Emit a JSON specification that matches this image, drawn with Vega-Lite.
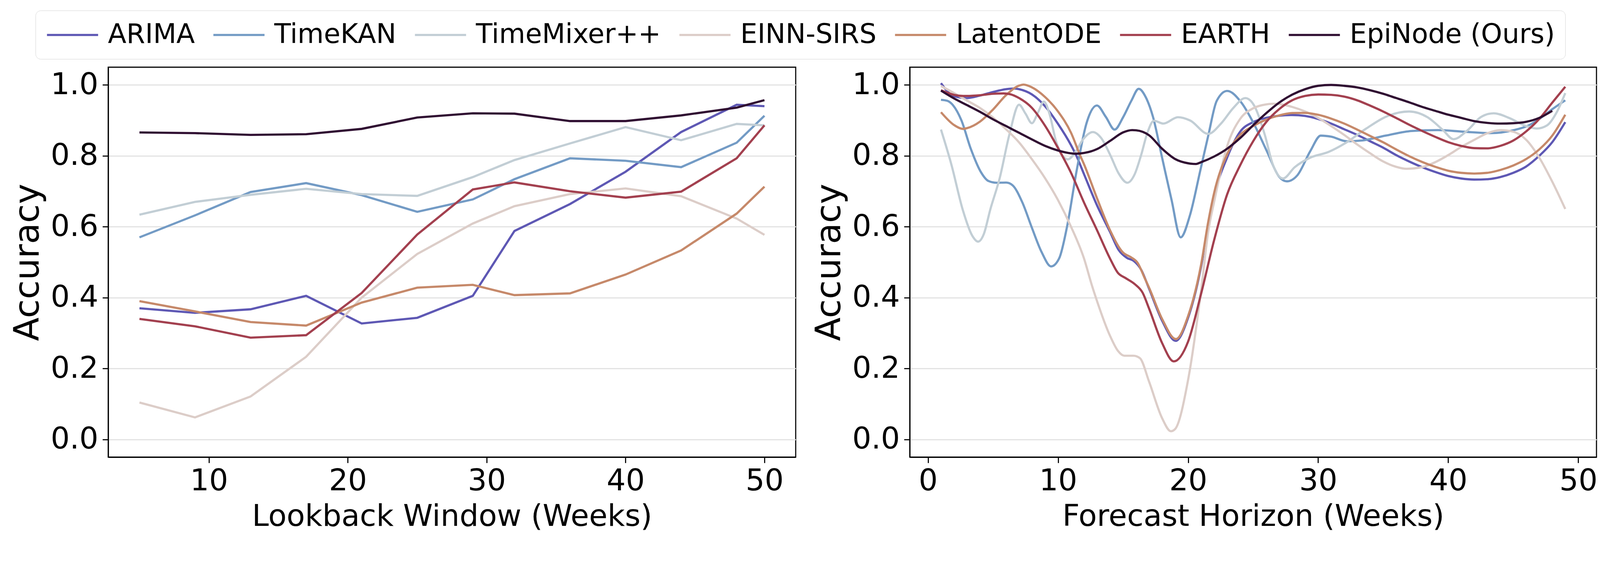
{
  "$schema": "https://vega.github.io/schema/vega-lite/v6.json",
  "background": "white",
  "padding": {"left": 25, "top": 26, "right": 8, "bottom": 8},
  "autosize": {"type": "pad"},
  "config": {
    "font": "DejaVu Sans",
    "view": {"stroke": "black", "strokeWidth": 2.8},
    "concat": {"spacing": 38},
    "axis": {"labelFont": "DejaVu Sans", "titleFont": "DejaVu Sans", "labelFontSize": 76.8, "titleFontSize": 76.8, "titleFontWeight": "normal", "labelColor": "black", "titleColor": "black", "tickColor": "black", "tickWidth": 2.8, "tickSize": 14.7, "domainColor": "black", "domainWidth": 2.8, "gridColor": "#e3e3e3", "gridWidth": 2.8, "labelPadding": 9.2, "titlePadding": 13.8, "labelOverlap": false, "labelFlush": false},
    "axisY": {"titleFontSize": 88.3, "labelPadding": 11, "titlePadding": 12},
    "legend": {"direction": "horizontal", "labelFont": "DejaVu Sans", "labelFontSize": 69.1, "labelColor": "black", "symbolType": "M-1,0L3,0", "symbolSize": 4284, "labelOffset": 87.3, "columnPadding": 36, "padding": 26, "strokeColor": "#d5d5d5", "cornerRadius": 13, "fillColor": "white", "labelLimit": 2000}
  },
  "datasets": {
    "lookback": [
      {"model": "ARIMA", "window": 5, "acc": 0.370}, {"model": "ARIMA", "window": 9, "acc": 0.357}, {"model": "ARIMA", "window": 13, "acc": 0.367}, {"model": "ARIMA", "window": 17, "acc": 0.405}, {"model": "ARIMA", "window": 21, "acc": 0.327}, {"model": "ARIMA", "window": 25, "acc": 0.343}, {"model": "ARIMA", "window": 29, "acc": 0.405}, {"model": "ARIMA", "window": 32, "acc": 0.588}, {"model": "ARIMA", "window": 36, "acc": 0.664}, {"model": "ARIMA", "window": 40, "acc": 0.755}, {"model": "ARIMA", "window": 44, "acc": 0.867}, {"model": "ARIMA", "window": 48, "acc": 0.944}, {"model": "ARIMA", "window": 50, "acc": 0.940},
      {"model": "TimeKAN", "window": 5, "acc": 0.570}, {"model": "TimeKAN", "window": 9, "acc": 0.632}, {"model": "TimeKAN", "window": 13, "acc": 0.698}, {"model": "TimeKAN", "window": 17, "acc": 0.723}, {"model": "TimeKAN", "window": 21, "acc": 0.689}, {"model": "TimeKAN", "window": 25, "acc": 0.642}, {"model": "TimeKAN", "window": 29, "acc": 0.677}, {"model": "TimeKAN", "window": 32, "acc": 0.734}, {"model": "TimeKAN", "window": 36, "acc": 0.793}, {"model": "TimeKAN", "window": 40, "acc": 0.786}, {"model": "TimeKAN", "window": 44, "acc": 0.768}, {"model": "TimeKAN", "window": 48, "acc": 0.837}, {"model": "TimeKAN", "window": 50, "acc": 0.913},
      {"model": "TimeMixer++", "window": 5, "acc": 0.634}, {"model": "TimeMixer++", "window": 9, "acc": 0.670}, {"model": "TimeMixer++", "window": 13, "acc": 0.690}, {"model": "TimeMixer++", "window": 17, "acc": 0.707}, {"model": "TimeMixer++", "window": 21, "acc": 0.692}, {"model": "TimeMixer++", "window": 25, "acc": 0.687}, {"model": "TimeMixer++", "window": 29, "acc": 0.740}, {"model": "TimeMixer++", "window": 32, "acc": 0.788}, {"model": "TimeMixer++", "window": 36, "acc": 0.835}, {"model": "TimeMixer++", "window": 40, "acc": 0.881}, {"model": "TimeMixer++", "window": 44, "acc": 0.844}, {"model": "TimeMixer++", "window": 48, "acc": 0.890}, {"model": "TimeMixer++", "window": 50, "acc": 0.886},
      {"model": "EINN-SIRS", "window": 5, "acc": 0.104}, {"model": "EINN-SIRS", "window": 9, "acc": 0.062}, {"model": "EINN-SIRS", "window": 13, "acc": 0.121}, {"model": "EINN-SIRS", "window": 17, "acc": 0.233}, {"model": "EINN-SIRS", "window": 21, "acc": 0.400}, {"model": "EINN-SIRS", "window": 25, "acc": 0.523}, {"model": "EINN-SIRS", "window": 29, "acc": 0.609}, {"model": "EINN-SIRS", "window": 32, "acc": 0.658}, {"model": "EINN-SIRS", "window": 36, "acc": 0.692}, {"model": "EINN-SIRS", "window": 40, "acc": 0.708}, {"model": "EINN-SIRS", "window": 44, "acc": 0.686}, {"model": "EINN-SIRS", "window": 48, "acc": 0.623}, {"model": "EINN-SIRS", "window": 50, "acc": 0.577},
      {"model": "LatentODE", "window": 5, "acc": 0.390}, {"model": "LatentODE", "window": 9, "acc": 0.361}, {"model": "LatentODE", "window": 13, "acc": 0.331}, {"model": "LatentODE", "window": 17, "acc": 0.321}, {"model": "LatentODE", "window": 21, "acc": 0.386}, {"model": "LatentODE", "window": 25, "acc": 0.428}, {"model": "LatentODE", "window": 29, "acc": 0.436}, {"model": "LatentODE", "window": 32, "acc": 0.407}, {"model": "LatentODE", "window": 36, "acc": 0.412}, {"model": "LatentODE", "window": 40, "acc": 0.465}, {"model": "LatentODE", "window": 44, "acc": 0.533}, {"model": "LatentODE", "window": 48, "acc": 0.637}, {"model": "LatentODE", "window": 50, "acc": 0.713},
      {"model": "EARTH", "window": 5, "acc": 0.340}, {"model": "EARTH", "window": 9, "acc": 0.319}, {"model": "EARTH", "window": 13, "acc": 0.287}, {"model": "EARTH", "window": 17, "acc": 0.294}, {"model": "EARTH", "window": 21, "acc": 0.413}, {"model": "EARTH", "window": 25, "acc": 0.578}, {"model": "EARTH", "window": 29, "acc": 0.705}, {"model": "EARTH", "window": 32, "acc": 0.725}, {"model": "EARTH", "window": 36, "acc": 0.700}, {"model": "EARTH", "window": 40, "acc": 0.682}, {"model": "EARTH", "window": 44, "acc": 0.699}, {"model": "EARTH", "window": 48, "acc": 0.793}, {"model": "EARTH", "window": 50, "acc": 0.886},
      {"model": "EpiNode (Ours)", "window": 5, "acc": 0.866}, {"model": "EpiNode (Ours)", "window": 9, "acc": 0.864}, {"model": "EpiNode (Ours)", "window": 13, "acc": 0.859}, {"model": "EpiNode (Ours)", "window": 17, "acc": 0.861}, {"model": "EpiNode (Ours)", "window": 21, "acc": 0.876}, {"model": "EpiNode (Ours)", "window": 25, "acc": 0.908}, {"model": "EpiNode (Ours)", "window": 29, "acc": 0.920}, {"model": "EpiNode (Ours)", "window": 32, "acc": 0.919}, {"model": "EpiNode (Ours)", "window": 36, "acc": 0.898}, {"model": "EpiNode (Ours)", "window": 40, "acc": 0.898}, {"model": "EpiNode (Ours)", "window": 44, "acc": 0.914}, {"model": "EpiNode (Ours)", "window": 48, "acc": 0.936}, {"model": "EpiNode (Ours)", "window": 50, "acc": 0.957}
    ],
    "horizon": [
      {"model": "ARIMA", "week": 1, "acc": 1.005}, {"model": "ARIMA", "week": 2, "acc": 0.968}, {"model": "ARIMA", "week": 3, "acc": 0.963}, {"model": "ARIMA", "week": 4, "acc": 0.970}, {"model": "ARIMA", "week": 5, "acc": 0.980}, {"model": "ARIMA", "week": 6, "acc": 0.988}, {"model": "ARIMA", "week": 6.6, "acc": 0.990}, {"model": "ARIMA", "week": 7, "acc": 0.988}, {"model": "ARIMA", "week": 8, "acc": 0.973}, {"model": "ARIMA", "week": 9, "acc": 0.940}, {"model": "ARIMA", "week": 10, "acc": 0.890}, {"model": "ARIMA", "week": 11, "acc": 0.830}, {"model": "ARIMA", "week": 11.4, "acc": 0.801}, {"model": "ARIMA", "week": 12, "acc": 0.748}, {"model": "ARIMA", "week": 13, "acc": 0.660}, {"model": "ARIMA", "week": 14, "acc": 0.585}, {"model": "ARIMA", "week": 14.65, "acc": 0.535}, {"model": "ARIMA", "week": 15.3, "acc": 0.512}, {"model": "ARIMA", "week": 15.8, "acc": 0.504}, {"model": "ARIMA", "week": 16.4, "acc": 0.478}, {"model": "ARIMA", "week": 17, "acc": 0.425}, {"model": "ARIMA", "week": 18, "acc": 0.335}, {"model": "ARIMA", "week": 19.05, "acc": 0.278}, {"model": "ARIMA", "week": 20, "acc": 0.343}, {"model": "ARIMA", "week": 21, "acc": 0.488}, {"model": "ARIMA", "week": 21.55, "acc": 0.605}, {"model": "ARIMA", "week": 22, "acc": 0.686}, {"model": "ARIMA", "week": 23, "acc": 0.795}, {"model": "ARIMA", "week": 24, "acc": 0.868}, {"model": "ARIMA", "week": 25, "acc": 0.895}, {"model": "ARIMA", "week": 26, "acc": 0.907}, {"model": "ARIMA", "week": 27, "acc": 0.913}, {"model": "ARIMA", "week": 28, "acc": 0.915}, {"model": "ARIMA", "week": 29, "acc": 0.9125}, {"model": "ARIMA", "week": 30, "acc": 0.904}, {"model": "ARIMA", "week": 31, "acc": 0.891}, {"model": "ARIMA", "week": 32, "acc": 0.875}, {"model": "ARIMA", "week": 33, "acc": 0.859}, {"model": "ARIMA", "week": 34, "acc": 0.841}, {"model": "ARIMA", "week": 35, "acc": 0.823}, {"model": "ARIMA", "week": 36, "acc": 0.802}, {"model": "ARIMA", "week": 37, "acc": 0.784}, {"model": "ARIMA", "week": 38, "acc": 0.768}, {"model": "ARIMA", "week": 39, "acc": 0.7545}, {"model": "ARIMA", "week": 40, "acc": 0.743}, {"model": "ARIMA", "week": 41, "acc": 0.736}, {"model": "ARIMA", "week": 42, "acc": 0.733}, {"model": "ARIMA", "week": 43, "acc": 0.734}, {"model": "ARIMA", "week": 44, "acc": 0.740}, {"model": "ARIMA", "week": 45, "acc": 0.752}, {"model": "ARIMA", "week": 46, "acc": 0.770}, {"model": "ARIMA", "week": 47, "acc": 0.800}, {"model": "ARIMA", "week": 48, "acc": 0.8385}, {"model": "ARIMA", "week": 49, "acc": 0.895},
      {"model": "TimeKAN", "week": 1, "acc": 0.958}, {"model": "TimeKAN", "week": 1.5, "acc": 0.955}, {"model": "TimeKAN", "week": 1.94, "acc": 0.942}, {"model": "TimeKAN", "week": 2.56, "acc": 0.901}, {"model": "TimeKAN", "week": 3.3, "acc": 0.819}, {"model": "TimeKAN", "week": 4.04, "acc": 0.756}, {"model": "TimeKAN", "week": 4.65, "acc": 0.729}, {"model": "TimeKAN", "week": 5.27, "acc": 0.724}, {"model": "TimeKAN", "week": 6.01, "acc": 0.7245}, {"model": "TimeKAN", "week": 6.5, "acc": 0.717}, {"model": "TimeKAN", "week": 7.25, "acc": 0.669}, {"model": "TimeKAN", "week": 7.99, "acc": 0.597}, {"model": "TimeKAN", "week": 8.73, "acc": 0.529}, {"model": "TimeKAN", "week": 9.47, "acc": 0.488}, {"model": "TimeKAN", "week": 10.09, "acc": 0.511}, {"model": "TimeKAN", "week": 10.7, "acc": 0.6015}, {"model": "TimeKAN", "week": 11.44, "acc": 0.760}, {"model": "TimeKAN", "week": 12.19, "acc": 0.892}, {"model": "TimeKAN", "week": 12.99, "acc": 0.942}, {"model": "TimeKAN", "week": 13.67, "acc": 0.910}, {"model": "TimeKAN", "week": 14.35, "acc": 0.874}, {"model": "TimeKAN", "week": 15.02, "acc": 0.910}, {"model": "TimeKAN", "week": 15.64, "acc": 0.9555}, {"model": "TimeKAN", "week": 16.2, "acc": 0.989}, {"model": "TimeKAN", "week": 16.75, "acc": 0.965}, {"model": "TimeKAN", "week": 17.3, "acc": 0.910}, {"model": "TimeKAN", "week": 18.0, "acc": 0.795}, {"model": "TimeKAN", "week": 18.72, "acc": 0.677}, {"model": "TimeKAN", "week": 19.43, "acc": 0.570}, {"model": "TimeKAN", "week": 20.14, "acc": 0.632}, {"model": "TimeKAN", "week": 20.94, "acc": 0.759}, {"model": "TimeKAN", "week": 21.55, "acc": 0.857}, {"model": "TimeKAN", "week": 22.2, "acc": 0.955}, {"model": "TimeKAN", "week": 23.0, "acc": 0.983}, {"model": "TimeKAN", "week": 24.1, "acc": 0.950}, {"model": "TimeKAN", "week": 25.05, "acc": 0.891}, {"model": "TimeKAN", "week": 26.05, "acc": 0.8135}, {"model": "TimeKAN", "week": 27.0, "acc": 0.741}, {"model": "TimeKAN", "week": 27.6, "acc": 0.728}, {"model": "TimeKAN", "week": 28.4, "acc": 0.745}, {"model": "TimeKAN", "week": 29.4, "acc": 0.8135}, {"model": "TimeKAN", "week": 30.2, "acc": 0.857}, {"model": "TimeKAN", "week": 31.0, "acc": 0.854}, {"model": "TimeKAN", "week": 32.2, "acc": 0.841}, {"model": "TimeKAN", "week": 33.3, "acc": 0.843}, {"model": "TimeKAN", "week": 35.2, "acc": 0.857}, {"model": "TimeKAN", "week": 37.2, "acc": 0.870}, {"model": "TimeKAN", "week": 39.2, "acc": 0.8725}, {"model": "TimeKAN", "week": 41.2, "acc": 0.868}, {"model": "TimeKAN", "week": 43.3, "acc": 0.864}, {"model": "TimeKAN", "week": 45.05, "acc": 0.8725}, {"model": "TimeKAN", "week": 46.2, "acc": 0.886}, {"model": "TimeKAN", "week": 47.0, "acc": 0.904}, {"model": "TimeKAN", "week": 48.0, "acc": 0.9315}, {"model": "TimeKAN", "week": 49, "acc": 0.9566},
      {"model": "TimeMixer++", "week": 1, "acc": 0.874}, {"model": "TimeMixer++", "week": 1.81, "acc": 0.774}, {"model": "TimeMixer++", "week": 2.68, "acc": 0.647}, {"model": "TimeMixer++", "week": 3.4, "acc": 0.575}, {"model": "TimeMixer++", "week": 3.85, "acc": 0.558}, {"model": "TimeMixer++", "week": 4.3, "acc": 0.580}, {"model": "TimeMixer++", "week": 4.78, "acc": 0.647}, {"model": "TimeMixer++", "week": 5.52, "acc": 0.738}, {"model": "TimeMixer++", "week": 6.26, "acc": 0.860}, {"model": "TimeMixer++", "week": 7.0, "acc": 0.944}, {"model": "TimeMixer++", "week": 7.5, "acc": 0.919}, {"model": "TimeMixer++", "week": 7.99, "acc": 0.892}, {"model": "TimeMixer++", "week": 8.48, "acc": 0.924}, {"model": "TimeMixer++", "week": 8.91, "acc": 0.953}, {"model": "TimeMixer++", "week": 9.34, "acc": 0.919}, {"model": "TimeMixer++", "week": 9.84, "acc": 0.842}, {"model": "TimeMixer++", "week": 10.33, "acc": 0.801}, {"model": "TimeMixer++", "week": 10.76, "acc": 0.790}, {"model": "TimeMixer++", "week": 11.32, "acc": 0.810}, {"model": "TimeMixer++", "week": 11.93, "acc": 0.8466}, {"model": "TimeMixer++", "week": 12.68, "acc": 0.867}, {"model": "TimeMixer++", "week": 13.3, "acc": 0.851}, {"model": "TimeMixer++", "week": 14.03, "acc": 0.801}, {"model": "TimeMixer++", "week": 14.65, "acc": 0.751}, {"model": "TimeMixer++", "week": 15.33, "acc": 0.724}, {"model": "TimeMixer++", "week": 15.88, "acc": 0.747}, {"model": "TimeMixer++", "week": 16.38, "acc": 0.801}, {"model": "TimeMixer++", "week": 16.87, "acc": 0.865}, {"model": "TimeMixer++", "week": 17.37, "acc": 0.899}, {"model": "TimeMixer++", "week": 18.1, "acc": 0.891}, {"model": "TimeMixer++", "week": 19.22, "acc": 0.909}, {"model": "TimeMixer++", "week": 20.14, "acc": 0.900}, {"model": "TimeMixer++", "week": 21.55, "acc": 0.862}, {"model": "TimeMixer++", "week": 22.53, "acc": 0.891}, {"model": "TimeMixer++", "week": 23.5, "acc": 0.936}, {"model": "TimeMixer++", "week": 24.4, "acc": 0.963}, {"model": "TimeMixer++", "week": 25.1, "acc": 0.9405}, {"model": "TimeMixer++", "week": 25.9, "acc": 0.859}, {"model": "TimeMixer++", "week": 26.5, "acc": 0.777}, {"model": "TimeMixer++", "week": 27.3, "acc": 0.736}, {"model": "TimeMixer++", "week": 28.2, "acc": 0.768}, {"model": "TimeMixer++", "week": 29.4, "acc": 0.795}, {"model": "TimeMixer++", "week": 30.8, "acc": 0.811}, {"model": "TimeMixer++", "week": 32.1, "acc": 0.836}, {"model": "TimeMixer++", "week": 33.7, "acc": 0.877}, {"model": "TimeMixer++", "week": 35.26, "acc": 0.911}, {"model": "TimeMixer++", "week": 37.0, "acc": 0.925}, {"model": "TimeMixer++", "week": 38.4, "acc": 0.909}, {"model": "TimeMixer++", "week": 39.6, "acc": 0.8725}, {"model": "TimeMixer++", "week": 40.4, "acc": 0.847}, {"model": "TimeMixer++", "week": 41.5, "acc": 0.8725}, {"model": "TimeMixer++", "week": 42.5, "acc": 0.909}, {"model": "TimeMixer++", "week": 43.5, "acc": 0.920}, {"model": "TimeMixer++", "week": 44.7, "acc": 0.9065}, {"model": "TimeMixer++", "week": 45.85, "acc": 0.886}, {"model": "TimeMixer++", "week": 46.8, "acc": 0.877}, {"model": "TimeMixer++", "week": 47.6, "acc": 0.886}, {"model": "TimeMixer++", "week": 48.4, "acc": 0.927}, {"model": "TimeMixer++", "week": 49, "acc": 0.977},
      {"model": "EINN-SIRS", "week": 1, "acc": 0.997}, {"model": "EINN-SIRS", "week": 2, "acc": 0.977}, {"model": "EINN-SIRS", "week": 3, "acc": 0.956}, {"model": "EINN-SIRS", "week": 4, "acc": 0.935}, {"model": "EINN-SIRS", "week": 5, "acc": 0.908}, {"model": "EINN-SIRS", "week": 6, "acc": 0.875}, {"model": "EINN-SIRS", "week": 7, "acc": 0.838}, {"model": "EINN-SIRS", "week": 8, "acc": 0.790}, {"model": "EINN-SIRS", "week": 9, "acc": 0.737}, {"model": "EINN-SIRS", "week": 10, "acc": 0.675}, {"model": "EINN-SIRS", "week": 11, "acc": 0.600}, {"model": "EINN-SIRS", "week": 12, "acc": 0.510}, {"model": "EINN-SIRS", "week": 12.6, "acc": 0.435}, {"model": "EINN-SIRS", "week": 13, "acc": 0.390}, {"model": "EINN-SIRS", "week": 14, "acc": 0.292}, {"model": "EINN-SIRS", "week": 14.6, "acc": 0.250}, {"model": "EINN-SIRS", "week": 15.1, "acc": 0.236}, {"model": "EINN-SIRS", "week": 15.8, "acc": 0.236}, {"model": "EINN-SIRS", "week": 16.3, "acc": 0.229}, {"model": "EINN-SIRS", "week": 17, "acc": 0.163}, {"model": "EINN-SIRS", "week": 18, "acc": 0.060}, {"model": "EINN-SIRS", "week": 18.68, "acc": 0.023}, {"model": "EINN-SIRS", "week": 19, "acc": 0.029}, {"model": "EINN-SIRS", "week": 20, "acc": 0.168}, {"model": "EINN-SIRS", "week": 21, "acc": 0.420}, {"model": "EINN-SIRS", "week": 21.55, "acc": 0.587}, {"model": "EINN-SIRS", "week": 22, "acc": 0.670}, {"model": "EINN-SIRS", "week": 23, "acc": 0.827}, {"model": "EINN-SIRS", "week": 24, "acc": 0.904}, {"model": "EINN-SIRS", "week": 25, "acc": 0.934}, {"model": "EINN-SIRS", "week": 26, "acc": 0.945}, {"model": "EINN-SIRS", "week": 26.5, "acc": 0.947}, {"model": "EINN-SIRS", "week": 27, "acc": 0.946}, {"model": "EINN-SIRS", "week": 28, "acc": 0.938}, {"model": "EINN-SIRS", "week": 29, "acc": 0.925}, {"model": "EINN-SIRS", "week": 30, "acc": 0.907}, {"model": "EINN-SIRS", "week": 31, "acc": 0.884}, {"model": "EINN-SIRS", "week": 32, "acc": 0.859}, {"model": "EINN-SIRS", "week": 33, "acc": 0.832}, {"model": "EINN-SIRS", "week": 34, "acc": 0.807}, {"model": "EINN-SIRS", "week": 35, "acc": 0.784}, {"model": "EINN-SIRS", "week": 36, "acc": 0.769}, {"model": "EINN-SIRS", "week": 36.8, "acc": 0.7634}, {"model": "EINN-SIRS", "week": 38, "acc": 0.768}, {"model": "EINN-SIRS", "week": 39, "acc": 0.782}, {"model": "EINN-SIRS", "week": 40, "acc": 0.802}, {"model": "EINN-SIRS", "week": 41, "acc": 0.825}, {"model": "EINN-SIRS", "week": 42, "acc": 0.845}, {"model": "EINN-SIRS", "week": 43, "acc": 0.8635}, {"model": "EINN-SIRS", "week": 44, "acc": 0.8725}, {"model": "EINN-SIRS", "week": 45, "acc": 0.868}, {"model": "EINN-SIRS", "week": 46, "acc": 0.845}, {"model": "EINN-SIRS", "week": 47, "acc": 0.795}, {"model": "EINN-SIRS", "week": 48, "acc": 0.727}, {"model": "EINN-SIRS", "week": 49, "acc": 0.650},
      {"model": "LatentODE", "week": 1, "acc": 0.923}, {"model": "LatentODE", "week": 2, "acc": 0.887}, {"model": "LatentODE", "week": 2.7, "acc": 0.876}, {"model": "LatentODE", "week": 3, "acc": 0.878}, {"model": "LatentODE", "week": 4, "acc": 0.8965}, {"model": "LatentODE", "week": 5, "acc": 0.9305}, {"model": "LatentODE", "week": 6, "acc": 0.971}, {"model": "LatentODE", "week": 7, "acc": 0.998}, {"model": "LatentODE", "week": 7.35, "acc": 1.001}, {"model": "LatentODE", "week": 8, "acc": 0.993}, {"model": "LatentODE", "week": 9, "acc": 0.966}, {"model": "LatentODE", "week": 10, "acc": 0.925}, {"model": "LatentODE", "week": 11, "acc": 0.865}, {"model": "LatentODE", "week": 11.7, "acc": 0.801}, {"model": "LatentODE", "week": 12, "acc": 0.776}, {"model": "LatentODE", "week": 13, "acc": 0.680}, {"model": "LatentODE", "week": 14, "acc": 0.590}, {"model": "LatentODE", "week": 15, "acc": 0.527}, {"model": "LatentODE", "week": 15.6, "acc": 0.514}, {"model": "LatentODE", "week": 16.1, "acc": 0.499}, {"model": "LatentODE", "week": 16.7, "acc": 0.452}, {"model": "LatentODE", "week": 17, "acc": 0.428}, {"model": "LatentODE", "week": 18, "acc": 0.340}, {"model": "LatentODE", "week": 19.06, "acc": 0.283}, {"model": "LatentODE", "week": 20, "acc": 0.348}, {"model": "LatentODE", "week": 21, "acc": 0.493}, {"model": "LatentODE", "week": 21.55, "acc": 0.614}, {"model": "LatentODE", "week": 22, "acc": 0.695}, {"model": "LatentODE", "week": 23, "acc": 0.804}, {"model": "LatentODE", "week": 24, "acc": 0.859}, {"model": "LatentODE", "week": 25, "acc": 0.884}, {"model": "LatentODE", "week": 26, "acc": 0.902}, {"model": "LatentODE", "week": 27, "acc": 0.914}, {"model": "LatentODE", "week": 28, "acc": 0.9207}, {"model": "LatentODE", "week": 29, "acc": 0.921}, {"model": "LatentODE", "week": 30, "acc": 0.9157}, {"model": "LatentODE", "week": 31, "acc": 0.905}, {"model": "LatentODE", "week": 32, "acc": 0.891}, {"model": "LatentODE", "week": 33, "acc": 0.874}, {"model": "LatentODE", "week": 34, "acc": 0.856}, {"model": "LatentODE", "week": 35, "acc": 0.838}, {"model": "LatentODE", "week": 36, "acc": 0.818}, {"model": "LatentODE", "week": 37, "acc": 0.799}, {"model": "LatentODE", "week": 38, "acc": 0.7826}, {"model": "LatentODE", "week": 39, "acc": 0.769}, {"model": "LatentODE", "week": 40, "acc": 0.758}, {"model": "LatentODE", "week": 41, "acc": 0.752}, {"model": "LatentODE", "week": 42, "acc": 0.750}, {"model": "LatentODE", "week": 43, "acc": 0.752}, {"model": "LatentODE", "week": 44, "acc": 0.760}, {"model": "LatentODE", "week": 45, "acc": 0.7727}, {"model": "LatentODE", "week": 46, "acc": 0.791}, {"model": "LatentODE", "week": 47, "acc": 0.818}, {"model": "LatentODE", "week": 48, "acc": 0.857}, {"model": "LatentODE", "week": 49, "acc": 0.916},
      {"model": "EARTH", "week": 1, "acc": 0.985}, {"model": "EARTH", "week": 1.5, "acc": 0.978}, {"model": "EARTH", "week": 2, "acc": 0.972}, {"model": "EARTH", "week": 2.7, "acc": 0.969}, {"model": "EARTH", "week": 3, "acc": 0.969}, {"model": "EARTH", "week": 4, "acc": 0.971}, {"model": "EARTH", "week": 5, "acc": 0.975}, {"model": "EARTH", "week": 5.8, "acc": 0.976}, {"model": "EARTH", "week": 6.3, "acc": 0.974}, {"model": "EARTH", "week": 7, "acc": 0.963}, {"model": "EARTH", "week": 8, "acc": 0.935}, {"model": "EARTH", "week": 9, "acc": 0.885}, {"model": "EARTH", "week": 10, "acc": 0.822}, {"model": "EARTH", "week": 11, "acc": 0.752}, {"model": "EARTH", "week": 12, "acc": 0.668}, {"model": "EARTH", "week": 13, "acc": 0.590}, {"model": "EARTH", "week": 14, "acc": 0.510}, {"model": "EARTH", "week": 14.6, "acc": 0.470}, {"model": "EARTH", "week": 15.2, "acc": 0.455}, {"model": "EARTH", "week": 15.9, "acc": 0.438}, {"model": "EARTH", "week": 16.5, "acc": 0.414}, {"model": "EARTH", "week": 17, "acc": 0.369}, {"model": "EARTH", "week": 18, "acc": 0.272}, {"model": "EARTH", "week": 18.9, "acc": 0.220}, {"model": "EARTH", "week": 20, "acc": 0.276}, {"model": "EARTH", "week": 21, "acc": 0.411}, {"model": "EARTH", "week": 22, "acc": 0.562}, {"model": "EARTH", "week": 23, "acc": 0.691}, {"model": "EARTH", "week": 24, "acc": 0.773}, {"model": "EARTH", "week": 25, "acc": 0.841}, {"model": "EARTH", "week": 26, "acc": 0.895}, {"model": "EARTH", "week": 27, "acc": 0.9316}, {"model": "EARTH", "week": 28, "acc": 0.9566}, {"model": "EARTH", "week": 29, "acc": 0.969}, {"model": "EARTH", "week": 30, "acc": 0.973}, {"model": "EARTH", "week": 31, "acc": 0.972}, {"model": "EARTH", "week": 32, "acc": 0.967}, {"model": "EARTH", "week": 33, "acc": 0.9566}, {"model": "EARTH", "week": 34, "acc": 0.9415}, {"model": "EARTH", "week": 35, "acc": 0.925}, {"model": "EARTH", "week": 36, "acc": 0.9066}, {"model": "EARTH", "week": 37, "acc": 0.8876}, {"model": "EARTH", "week": 38, "acc": 0.870}, {"model": "EARTH", "week": 39, "acc": 0.8535}, {"model": "EARTH", "week": 40, "acc": 0.8385}, {"model": "EARTH", "week": 41, "acc": 0.828}, {"model": "EARTH", "week": 42, "acc": 0.8217}, {"model": "EARTH", "week": 43, "acc": 0.821}, {"model": "EARTH", "week": 44, "acc": 0.828}, {"model": "EARTH", "week": 45, "acc": 0.843}, {"model": "EARTH", "week": 46, "acc": 0.869}, {"model": "EARTH", "week": 47, "acc": 0.904}, {"model": "EARTH", "week": 48, "acc": 0.950}, {"model": "EARTH", "week": 49, "acc": 0.995},
      {"model": "EpiNode (Ours)", "week": 1, "acc": 0.984}, {"model": "EpiNode (Ours)", "week": 2, "acc": 0.962}, {"model": "EpiNode (Ours)", "week": 3, "acc": 0.943}, {"model": "EpiNode (Ours)", "week": 4, "acc": 0.924}, {"model": "EpiNode (Ours)", "week": 5, "acc": 0.903}, {"model": "EpiNode (Ours)", "week": 6, "acc": 0.884}, {"model": "EpiNode (Ours)", "week": 7, "acc": 0.865}, {"model": "EpiNode (Ours)", "week": 8, "acc": 0.846}, {"model": "EpiNode (Ours)", "week": 9, "acc": 0.828}, {"model": "EpiNode (Ours)", "week": 10, "acc": 0.815}, {"model": "EpiNode (Ours)", "week": 11, "acc": 0.807}, {"model": "EpiNode (Ours)", "week": 11.4, "acc": 0.806}, {"model": "EpiNode (Ours)", "week": 12, "acc": 0.808}, {"model": "EpiNode (Ours)", "week": 13, "acc": 0.819}, {"model": "EpiNode (Ours)", "week": 14, "acc": 0.842}, {"model": "EpiNode (Ours)", "week": 15, "acc": 0.866}, {"model": "EpiNode (Ours)", "week": 15.7, "acc": 0.8725}, {"model": "EpiNode (Ours)", "week": 16, "acc": 0.872}, {"model": "EpiNode (Ours)", "week": 17, "acc": 0.858}, {"model": "EpiNode (Ours)", "week": 18, "acc": 0.820}, {"model": "EpiNode (Ours)", "week": 19, "acc": 0.791}, {"model": "EpiNode (Ours)", "week": 20, "acc": 0.779}, {"model": "EpiNode (Ours)", "week": 20.6, "acc": 0.777}, {"model": "EpiNode (Ours)", "week": 21, "acc": 0.782}, {"model": "EpiNode (Ours)", "week": 22, "acc": 0.798}, {"model": "EpiNode (Ours)", "week": 23, "acc": 0.820}, {"model": "EpiNode (Ours)", "week": 24, "acc": 0.850}, {"model": "EpiNode (Ours)", "week": 25, "acc": 0.886}, {"model": "EpiNode (Ours)", "week": 26, "acc": 0.920}, {"model": "EpiNode (Ours)", "week": 27, "acc": 0.950}, {"model": "EpiNode (Ours)", "week": 28, "acc": 0.9725}, {"model": "EpiNode (Ours)", "week": 29, "acc": 0.988}, {"model": "EpiNode (Ours)", "week": 30, "acc": 0.9975}, {"model": "EpiNode (Ours)", "week": 31, "acc": 1.0}, {"model": "EpiNode (Ours)", "week": 32, "acc": 0.9975}, {"model": "EpiNode (Ours)", "week": 33, "acc": 0.993}, {"model": "EpiNode (Ours)", "week": 34, "acc": 0.985}, {"model": "EpiNode (Ours)", "week": 35, "acc": 0.975}, {"model": "EpiNode (Ours)", "week": 36, "acc": 0.963}, {"model": "EpiNode (Ours)", "week": 37, "acc": 0.951}, {"model": "EpiNode (Ours)", "week": 38, "acc": 0.938}, {"model": "EpiNode (Ours)", "week": 39, "acc": 0.927}, {"model": "EpiNode (Ours)", "week": 40, "acc": 0.916}, {"model": "EpiNode (Ours)", "week": 41, "acc": 0.907}, {"model": "EpiNode (Ours)", "week": 42, "acc": 0.898}, {"model": "EpiNode (Ours)", "week": 43, "acc": 0.893}, {"model": "EpiNode (Ours)", "week": 44, "acc": 0.891}, {"model": "EpiNode (Ours)", "week": 45, "acc": 0.892}, {"model": "EpiNode (Ours)", "week": 46, "acc": 0.896}, {"model": "EpiNode (Ours)", "week": 47, "acc": 0.907}, {"model": "EpiNode (Ours)", "week": 48, "acc": 0.927}
    ]
  },
  "hconcat": [
    {
      "width": 1760,
      "height": 998,
      "data": {"name": "lookback"},
      "mark": {"type": "line"},
      "encoding": {
        "x": {"field": "window", "type": "quantitative", "scale": {"domain": [2.75, 52.25], "nice": false, "zero": false}, "axis": {"values": [10, 20, 30, 40, 50], "title": "Lookback Window (Weeks)", "grid": false}},
        "y": {"field": "acc", "type": "quantitative", "scale": {"domain": [-0.05, 1.05], "nice": false, "zero": false}, "axis": {"values": [0, 0.2, 0.4, 0.6, 0.8, 1.0], "format": ".1f", "title": "Accuracy", "grid": true}},
        "color": {"field": "model", "type": "nominal", "scale": {"domain": ["ARIMA", "TimeKAN", "TimeMixer++", "EINN-SIRS", "LatentODE", "EARTH", "EpiNode (Ours)"], "range": ["#5e58b4", "#739bc5", "#c2ced5", "#dccdc8", "#c6896a", "#a3404f", "#300f32"]}, "legend": {"title": null, "orient": "none", "legendX": -186, "legendY": -145}},
        "strokeWidth": {"field": "model", "type": "ordinal", "scale": {"domain": ["ARIMA", "TimeKAN", "TimeMixer++", "EINN-SIRS", "LatentODE", "EARTH", "EpiNode (Ours)"], "range": [5.6, 5.6, 5.6, 5.6, 5.6, 5.6, 10.5]}, "legend": {"title": null, "orient": "none", "legendX": -186, "legendY": -145}}
      }
    },
    {
      "width": 1758,
      "height": 998,
      "data": {"name": "horizon"},
      "mark": {"type": "line", "interpolate": "monotone"},
      "encoding": {
        "x": {"field": "week", "type": "quantitative", "scale": {"domain": [-1.4, 51.4], "nice": false, "zero": false}, "axis": {"values": [0, 10, 20, 30, 40, 50], "title": "Forecast Horizon (Weeks)", "grid": false}},
        "y": {"field": "acc", "type": "quantitative", "scale": {"domain": [-0.05, 1.05], "nice": false, "zero": false}, "axis": {"values": [0, 0.2, 0.4, 0.6, 0.8, 1.0], "format": ".1f", "title": "Accuracy", "grid": true}},
        "color": {"field": "model", "type": "nominal", "scale": {"domain": ["ARIMA", "TimeKAN", "TimeMixer++", "EINN-SIRS", "LatentODE", "EARTH", "EpiNode (Ours)"], "range": ["#5e58b4", "#739bc5", "#c2ced5", "#dccdc8", "#c6896a", "#a3404f", "#300f32"]}, "legend": {"title": null, "orient": "none", "legendX": -186, "legendY": -145}},
        "strokeWidth": {"field": "model", "type": "ordinal", "scale": {"domain": ["ARIMA", "TimeKAN", "TimeMixer++", "EINN-SIRS", "LatentODE", "EARTH", "EpiNode (Ours)"], "range": [5.6, 5.6, 5.6, 5.6, 5.6, 5.6, 10.5]}, "legend": {"title": null, "orient": "none", "legendX": -186, "legendY": -145}}
      }
    }
  ]
}
